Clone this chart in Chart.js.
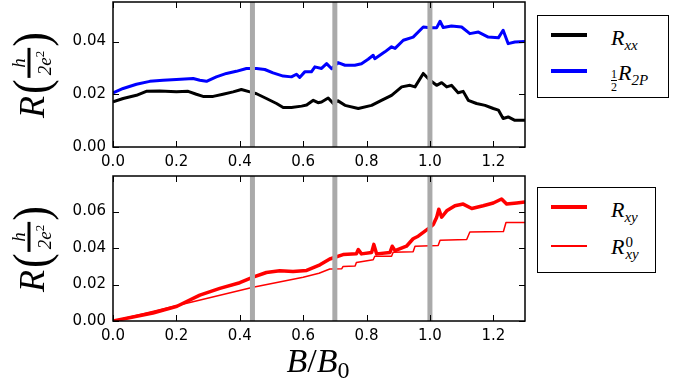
<!DOCTYPE html>
<html>
<head>
<meta charset="utf-8">
<script src="https://cdn.jsdelivr.net/npm/chart.js@4.4.0/dist/chart.umd.min.js"></script>
<style>
body { margin: 0; background: #fff; }
#fig { position: relative; width: 686px; height: 390px; overflow: hidden; font-family: "Liberation Serif", serif; color: #000; }
canvas { position: absolute; left: 0; }
.m { font-style: italic; }
.up { font-style: normal; }
.ylab { position: absolute; width: 0; height: 0; }
.ylab > div { position: absolute; left: 0; top: 0; transform: translate(-50%, -50%) rotate(-90deg); display: flex; align-items: center; white-space: nowrap; }
.bigR { font-size: 36px; font-style: italic; line-height: 1; margin-right: 2px; }
.par { font-size: 44px; line-height: 1; display: inline-block; transform: scaleY(1.15); }
.frac { display: inline-flex; flex-direction: column; align-items: center; font-size: 19px; line-height: 1; font-style: italic; margin: 0 1px; }
.frac .den { border-top: 3px solid #000; padding: 2px 3px 0 3px; }
.frac sup { font-size: 13px; font-style: normal; vertical-align: 7px; }
.legend { position: absolute; border: 1px solid #000; background: #fff; box-sizing: border-box; }
.swatch { position: absolute; left: 13px; width: 36px; }
.ltxt { position: absolute; left: 73px; font-size: 22px; line-height: 1; white-space: nowrap; }
.ltxt sub { font-size: 15px; vertical-align: -5px; }
.ss { display: inline-block; position: relative; width: 18px; height: 0; }
.ss span { position: absolute; left: 1px; font-size: 15px; line-height: 1; }
.ss .s1 { bottom: 4px; }
.ss .s2 { bottom: -8px; }
.half { display: inline-flex; flex-direction: column; align-items: center; font-size: 12px; line-height: 1; font-style: normal; vertical-align: 2px; margin-right: 1px; }
.half span + span { border-top: 1px solid #000; }
#xtitle { position: absolute; left: 318px; top: 344px; transform: translateX(-50%); font-size: 34px; line-height: 1; white-space: nowrap; }
#xtitle sub { font-size: 24px; font-style: normal; vertical-align: -6px; }
</style>
</head>
<body>
<div id="fig">
  <canvas id="top" width="530" height="172" style="top:0"></canvas>
  <canvas id="bottom" width="530" height="172" style="top:172px"></canvas>

  <div class="ylab" style="left:31px; top:75px"><div><span class="bigR">R</span><span class="par">(</span><span class="frac"><span>h</span><span class="den">2e<sup>2</sup></span></span><span class="par">)</span></div></div>
  <div class="ylab" style="left:31px; top:249px"><div><span class="bigR">R</span><span class="par">(</span><span class="frac"><span>h</span><span class="den">2e<sup>2</sup></span></span><span class="par">)</span></div></div>

  <div class="legend" style="left:537px; top:15px; width:132px; height:83px">
    <div class="swatch" style="top:17px; height:4px; background:#000"></div>
    <div class="ltxt m" style="top:11px">R<sub>xx</sub></div>
    <div class="swatch" style="top:53px; height:4px; background:#0000ff"></div>
    <div class="ltxt m" style="top:46px"><span class="half"><span>1</span><span>2</span></span>R<sub>2P</sub></div>
  </div>

  <div class="legend" style="left:537px; top:187px; width:119px; height:86px">
    <div class="swatch" style="top:17px; height:4px; background:#ff0000"></div>
    <div class="ltxt m" style="top:11px">R<sub>xy</sub></div>
    <div class="swatch" style="top:57px; height:1.5px; background:#ff0000"></div>
    <div class="ltxt m" style="top:48px">R<span class="ss"><span class="s1 up">0</span><span class="s2">xy</span></span></div>
  </div>

  <div id="xtitle" class="m">B<span class="up">/</span>B<sub>0</sub></div>
</div>

<script>
// axis ticks
const xTicks = [0, 0.2, 0.4, 0.6, 0.8, 1.0, 1.2];
const yTicksTop = [0, 0.02, 0.04];
const yTicksBottom = [0, 0.02, 0.04, 0.06];
// grey marker lines
const bandX = [0.44, 0.70, 1.00];

// R_xx (black)
const rxxX = [0, 0.032, 0.074, 0.105, 0.147, 0.2, 0.237, 0.263, 0.284, 0.316, 0.347, 0.379, 0.405, 0.432, 0.453, 0.484, 0.516, 0.537, 0.563, 0.595, 0.611, 0.632, 0.647, 0.658, 0.679, 0.695, 0.71, 0.732, 0.774, 0.816, 0.847, 0.879, 0.911, 0.937, 0.953, 0.979, 1.0, 1.021, 1.037, 1.053, 1.068, 1.089, 1.105, 1.121, 1.147, 1.174, 1.2, 1.216, 1.231, 1.247, 1.268, 1.3];
const rxxY = [0.0171, 0.0184, 0.0196, 0.0211, 0.0212, 0.021, 0.0211, 0.02, 0.0192, 0.0192, 0.02, 0.0209, 0.0218, 0.0209, 0.0202, 0.0184, 0.0165, 0.015, 0.015, 0.0155, 0.0159, 0.0177, 0.0168, 0.0171, 0.0186, 0.0165, 0.0175, 0.0158, 0.0146, 0.0158, 0.0177, 0.0196, 0.0228, 0.0234, 0.0228, 0.0279, 0.0253, 0.0234, 0.0244, 0.0228, 0.0234, 0.0206, 0.0211, 0.0177, 0.0165, 0.0158, 0.0146, 0.014, 0.0108, 0.0114, 0.0101, 0.0101];

// 1/2 R_2P (blue)
const r2pX = [0, 0.032, 0.074, 0.116, 0.158, 0.2, 0.253, 0.274, 0.295, 0.326, 0.358, 0.389, 0.421, 0.453, 0.479, 0.505, 0.537, 0.563, 0.579, 0.589, 0.605, 0.626, 0.637, 0.658, 0.674, 0.69, 0.71, 0.732, 0.763, 0.784, 0.805, 0.821, 0.826, 0.858, 0.879, 0.89, 0.916, 0.947, 0.979, 1.0, 1.021, 1.032, 1.042, 1.068, 1.1, 1.126, 1.153, 1.184, 1.216, 1.231, 1.247, 1.268, 1.3];
const r2pY = [0.0205, 0.0222, 0.0238, 0.0249, 0.0253, 0.0256, 0.026, 0.0253, 0.0249, 0.0266, 0.0279, 0.0287, 0.0298, 0.0298, 0.0294, 0.0281, 0.0269, 0.0266, 0.0276, 0.0264, 0.0285, 0.0285, 0.0304, 0.0298, 0.0316, 0.0297, 0.032, 0.031, 0.031, 0.0316, 0.0333, 0.0348, 0.0335, 0.0361, 0.038, 0.0374, 0.0405, 0.0417, 0.0455, 0.0452, 0.0452, 0.0477, 0.0453, 0.0459, 0.0455, 0.043, 0.0436, 0.0417, 0.0414, 0.0443, 0.0392, 0.0398, 0.04];

// R_xy (thick red)
const rxyX = [0, 0.063, 0.126, 0.202, 0.274, 0.337, 0.4, 0.442, 0.484, 0.526, 0.568, 0.611, 0.653, 0.684, 0.726, 0.768, 0.774, 0.784, 0.816, 0.823, 0.832, 0.874, 0.881, 0.89, 0.926, 0.947, 0.963, 0.995, 1.011, 1.021, 1.028, 1.037, 1.053, 1.079, 1.105, 1.132, 1.168, 1.2, 1.226, 1.242, 1.274, 1.3];
const rxyY = [0, 0.0022, 0.0044, 0.0081, 0.0142, 0.0179, 0.021, 0.024, 0.0266, 0.0275, 0.0271, 0.0277, 0.0308, 0.034, 0.0364, 0.0369, 0.0392, 0.0368, 0.0376, 0.042, 0.0368, 0.0376, 0.041, 0.0386, 0.041, 0.0451, 0.0465, 0.0506, 0.053, 0.0567, 0.0613, 0.0569, 0.0604, 0.0632, 0.0641, 0.0617, 0.0632, 0.0647, 0.0669, 0.0641, 0.0647, 0.0652];

// R_xy^0 (thin red)
const rxy0X = [0, 0.2, 0.442, 0.6, 0.65, 0.684, 0.722, 0.726, 0.764, 0.768, 0.821, 0.826, 0.879, 0.884, 0.947, 0.953, 1.026, 1.032, 1.116, 1.126, 1.232, 1.24, 1.3];
const rxy0Y = [0, 0.0084, 0.0185, 0.024, 0.0262, 0.0285, 0.0287, 0.0299, 0.0301, 0.0321, 0.0336, 0.0355, 0.0355, 0.0377, 0.038, 0.041, 0.0414, 0.0443, 0.0447, 0.0488, 0.0491, 0.054, 0.054];

const pts = (xs, ys) => xs.map((x, i) => ({ x: x, y: ys[i] }));

// grey vertical bands, drawn on top of the curves
function bandSets(yMax) {
    return bandX.map(b => ({
        data: [{ x: b, y: 0 }, { x: b, y: yMax }],
        borderColor: '#aaaaaa',
        borderWidth: 5,
        order: 0
    }));
}

// matplotlib style box with inward ticks on every side
const frame = {
    id: 'frame',
    afterDatasetsDraw(chart) {
        const ctx = chart.ctx;
        const a = chart.chartArea;
        const x = chart.scales.x, y = chart.scales.y;
        ctx.save();
        ctx.strokeStyle = '#000';
        ctx.lineWidth = 1;
        ctx.beginPath();
        x.ticks.forEach(t => {
            const px = Math.round(x.getPixelForValue(t.value)) + 0.5;
            ctx.moveTo(px, a.bottom); ctx.lineTo(px, a.bottom - 6);
            ctx.moveTo(px, a.top); ctx.lineTo(px, a.top + 6);
        });
        y.ticks.forEach(t => {
            const py = Math.round(y.getPixelForValue(t.value)) + 0.5;
            ctx.moveTo(a.left, py); ctx.lineTo(a.left + 6, py);
            ctx.moveTo(a.right, py); ctx.lineTo(a.right - 6, py);
        });
        ctx.stroke();
        ctx.lineWidth = 1.5;
        ctx.strokeRect(a.left, a.top, a.right - a.left, a.bottom - a.top);
        ctx.restore();
    }
};

function makeChart(id, datasets, yMax, yTicks, padTop, xHeight) {
    return new Chart(document.getElementById(id), {
        type: 'line',
        data: { datasets: datasets },
        options: {
            responsive: false,
            animation: false,
            devicePixelRatio: 1,
            layout: { padding: { top: padTop, right: 5, left: 0, bottom: 0 } },
            plugins: { legend: { display: false }, tooltip: { enabled: false } },
            elements: { point: { radius: 0 }, line: { tension: 0, borderJoinStyle: 'round' } },
            scales: {
                x: {
                    type: 'linear', min: 0, max: 1.3,
                    grid: { display: false, drawTicks: false },
                    border: { display: false },
                    afterBuildTicks: s => { s.ticks = xTicks.map(v => ({ value: v })); },
                    afterFit: s => { s.height = xHeight; s.paddingLeft = 0; s.paddingRight = 0; },
                    ticks: {
                        padding: 6, color: '#000', autoSkip: false, maxRotation: 0,
                        font: { family: 'DejaVu Sans', size: 15 },
                        callback: v => v.toFixed(1)
                    }
                },
                y: {
                    type: 'linear', min: 0, max: yMax,
                    grid: { display: false, drawTicks: false },
                    border: { display: false },
                    afterBuildTicks: s => { s.ticks = yTicks.map(v => ({ value: v })); },
                    afterFit: s => { s.width = 113; s.paddingTop = 0; s.paddingBottom = 0; },
                    ticks: {
                        padding: 7, color: '#000', autoSkip: false,
                        font: { family: 'DejaVu Sans', size: 15 },
                        callback: v => v.toFixed(2)
                    }
                }
            }
        },
        plugins: [frame]
    });
}

makeChart('top', bandSets(0.055).concat([
    { label: 'Rxx', data: pts(rxxX, rxxY), borderColor: '#000000', borderWidth: 3, order: 1 },
    { label: '1/2 R2P', data: pts(r2pX, r2pY), borderColor: '#0000ff', borderWidth: 3, order: 1 }
]), 0.055, yTicksTop, 2, 25);

makeChart('bottom', bandSets(0.0795).concat([
    { label: 'Rxy', data: pts(rxyX, rxyY), borderColor: '#ff0000', borderWidth: 3.5, order: 1 },
    { label: 'Rxy0', data: pts(rxy0X, rxy0Y), borderColor: '#ff0000', borderWidth: 1.5, order: 1 }
]), 0.0795, yTicksBottom, 4, 23);
</script>
</body>
</html>
